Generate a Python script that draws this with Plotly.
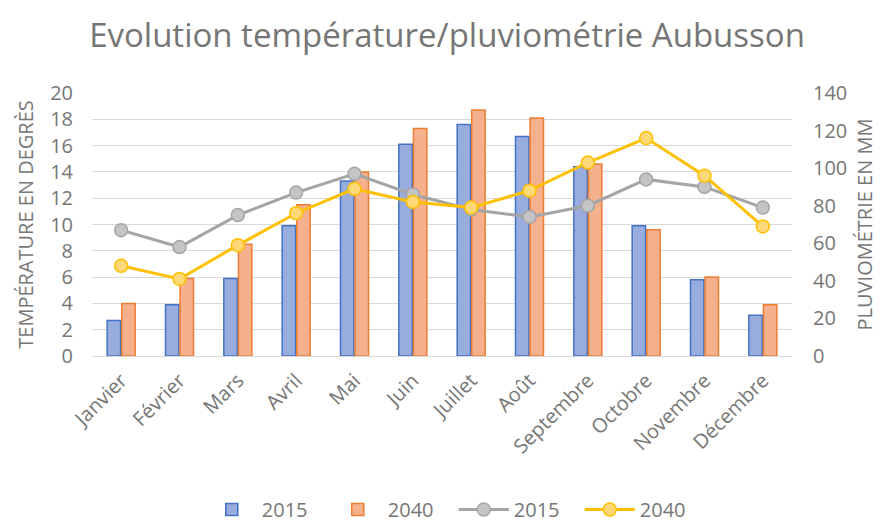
import plotly.graph_objects as go

months = ["Janvier", "Février", "Mars", "Avril", "Mai", "Juin", "Juillet", "Août",
          "Septembre", "Octobre", "Novembre", "Décembre"]
temp_2015 = [2.7, 3.9, 5.9, 9.9, 13.3, 16.1, 17.6, 16.7, 14.4, 9.9, 5.8, 3.1]
temp_2040 = [4.0, 5.9, 8.5, 11.5, 14.0, 17.3, 18.7, 18.1, 14.6, 9.6, 6.0, 3.9]
pluvio_2015 = [67, 58, 75, 87, 97, 86, 78, 74, 80, 94, 90, 79]
pluvio_2040 = [48, 41, 59, 76, 89, 82, 79, 88, 103, 116, 96, 69]

FONT = "Open Sans"
GREY = "#767676"

fig = go.Figure()
fig.add_trace(go.Bar(x=months, y=temp_2015, name="2015",
                     marker=dict(color="#98ACDD", line=dict(color="#4472C4", width=1.5))))
fig.add_trace(go.Bar(x=months, y=temp_2040, name="2040",
                     marker=dict(color="#F5B08E", line=dict(color="#ED7D31", width=1.5))))
fig.add_trace(go.Scatter(x=months, y=pluvio_2015, name="2015", yaxis="y2", mode="lines+markers",
                         line=dict(color="#A5A5A5", width=3),
                         marker=dict(size=13, color="#C4C4C4", line=dict(color="#A5A5A5", width=1.5))))
fig.add_trace(go.Scatter(x=months, y=pluvio_2040, name="2040", yaxis="y2", mode="lines+markers",
                         line=dict(color="#FFC000", width=3),
                         marker=dict(size=13, color="#FFD878", line=dict(color="#FFC000", width=1.5))))

fig.update_layout(
    width=877, height=515,
    margin=dict(l=84, r=93, t=85, b=167),
    paper_bgcolor="white", plot_bgcolor="white",
    font=dict(family=FONT, color=GREY, size=18),
    title=dict(text="Evolution température/pluviométrie Aubusson",
               x=0.5006, xanchor="center", y=0.9476, yanchor="middle",
               font=dict(size=33, color=GREY, family=FONT)),
    barmode="group", bargap=0.5, bargroupgap=0.08,
    xaxis=dict(tickangle=-45, showgrid=False, showline=True, linecolor="#D9D9D9",
               range=[-0.5, 11.5],
               ticks="", tickfont=dict(size=20, color=GREY), automargin=False,
               ticklabelstandoff=4),
    yaxis=dict(range=[0, 20], dtick=2, showgrid=True, gridcolor="#D9D9D9", zeroline=False,
               tickfont=dict(size=20, color=GREY), ticks="", automargin=False,
               ticklabelstandoff=18,
               title=dict(text="TEMPÉRATURE EN DEGRÈS", font=dict(size=20, color=GREY), standoff=11)),
    yaxis2=dict(range=[0, 140], dtick=20, overlaying="y", side="right", showgrid=False,
                zeroline=False, tickfont=dict(size=20, color=GREY), ticks="", automargin=False,
                ticklabelstandoff=20,
                title=dict(text="PLUVIOMÉTRIE EN MM", font=dict(size=20, color=GREY), standoff=11)),
    legend=dict(orientation="h", xref="container", yref="container",
                x=0.5083, xanchor="center", y=0.026, yanchor="middle",
                font=dict(size=20, color=GREY), traceorder="normal",
                entrywidth=61, entrywidthmode="pixels", itemwidth=50),
)

fig.write_html("out.html")
